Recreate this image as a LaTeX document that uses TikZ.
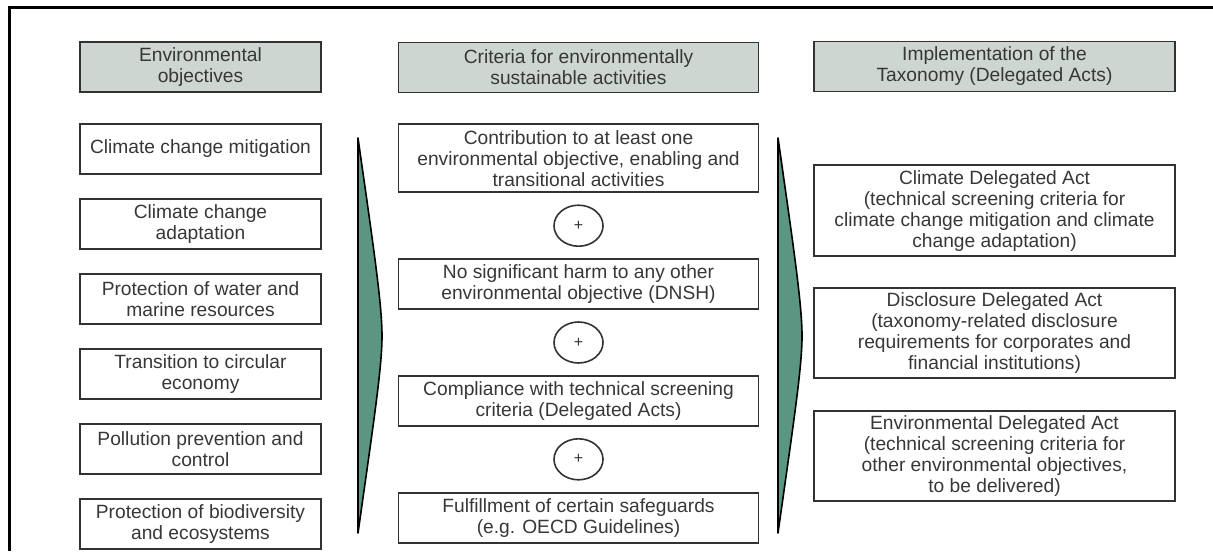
\documentclass[tikz,border=0pt]{standalone}
\usepackage{fontspec}
\setmainfont{Liberation Sans}
\usepackage{xcolor}
\usepackage{tikz}
\usetikzlibrary{shapes.geometric, positioning}

\definecolor{headfill}{RGB}{205,214,209}
\definecolor{chevfill}{RGB}{90,150,130}
\definecolor{txtgray}{RGB}{55,55,55}
\definecolor{boxline}{RGB}{50,50,50}

\begin{document}
\begin{tikzpicture}[
        x=0.5pt, y=-0.5pt,
        node distance=11.6pt,
        box/.style={rectangle, draw=boxline, line width=0.9pt, minimum width=#1, minimum height=25pt, inner sep=1.5pt, align=center, text=txtgray, font=\fontsize{9.6}{10.5}\selectfont},
        box/.default=120.5pt,
        head/.style={box=#1, fill=headfill},
        plus/.style={ellipse, draw=boxline, line width=0.8pt, minimum width=24.5pt, minimum height=20.5pt, inner sep=0pt, font=\fontsize{8}{8}\selectfont, text=txtgray},
        chevron/.style={fill=chevfill, draw=black, line width=0.8pt, line join=round}
    ]
    \useasboundingbox (0,0) rectangle (1213,551);
    \draw[line width=1.5pt] (9,551) -- (9,8) -- (1213,8);

    % headers
    \node[head=120.5pt] (hEnv) at (200.5,67) {Environmental\\objectives};
    \node[head=180pt] (hCrit) at (578.5,67.5) {Criteria for environmentally\\sustainable activities};
    \node[head=180.5pt] (hImpl) at (994.5,66.5) {Implementation of the\\Taxonomy (Delegated Acts)};

    % environmental objectives
    \node[box, below=15pt of hEnv] (obj1) {Climate change mitigation};
    \node[box, below=of obj1] (obj2) {Climate change\\adaptation};
    \node[box, below=of obj2] (obj3) {Protection of water and\\marine resources};
    \node[box, below=of obj3] (obj4) {Transition to circular\\economy};
    \node[box, below=of obj4] (obj5) {Pollution prevention and\\control};
    \node[box, below=of obj5] (obj6) {Protection of biodiversity\\and ecosystems};

    % criteria
    \node[box=180pt, minimum height=34pt, below=15pt of hCrit] (crit1) {Contribution to at least one\\environmental objective, enabling and\\transitional activities};
    \node[plus, below=5.6pt of crit1] (and1) {+};
    \node[box=180pt, below=5.6pt of and1] (crit2) {No significant harm to any other\\environmental objective (DNSH)};
    \node[plus, below=5.6pt of crit2] (and2) {+};
    \node[box=180pt, below=5.6pt of and2] (crit3) {Compliance with technical screening\\criteria (Delegated Acts)};
    \node[plus, below=5.6pt of crit3] (and3) {+};
    \node[box=180pt, below=5.6pt of and3] (crit4) {Fulfillment of certain safeguards\\(e.g. OECD Guidelines)};

    % delegated acts
    \node[box=180.5pt, minimum height=45.5pt, below=36pt of hImpl] (act1) {Climate Delegated Act\\(technical screening criteria for\\climate change mitigation and climate\\change adaptation)};
    \node[box=180.5pt, minimum height=45pt, below=15pt of act1] (act2) {Disclosure Delegated Act\\(taxonomy-related disclosure\\requirements for corporates and\\financial institutions)};
    \node[box=180.5pt, minimum height=45pt, below=15.5pt of act2] (act3) {Environmental Delegated Act\\(technical screening criteria for\\other environmental objectives,\\to be delivered)};

    % chevrons between the columns
    \foreach \cx in {358,778} {
        \draw[chevron] (\cx,138) .. controls (\cx+16,250) and (\cx+24,305) .. (\cx+24,336)
            .. controls (\cx+24,367) and (\cx+16,420) .. (\cx,533) -- cycle;
    }
\end{tikzpicture}
\end{document}
